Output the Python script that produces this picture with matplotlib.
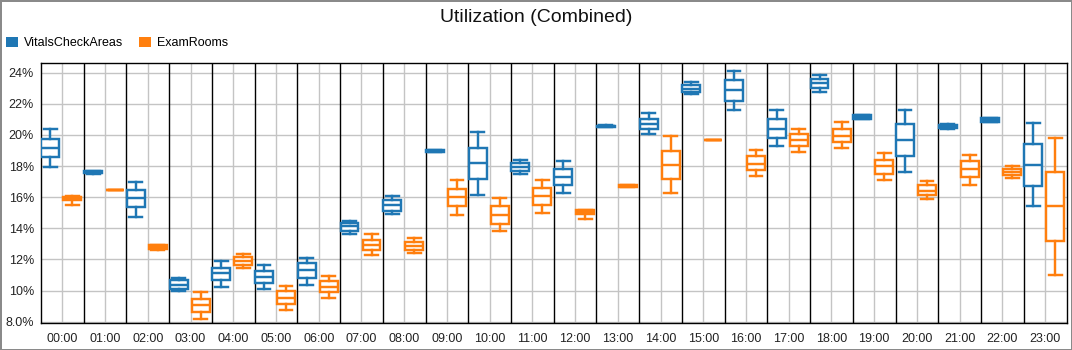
#!/usr/bin/env python3
# Utilization (Combined) - boites a moustaches par heure, deux series

import matplotlib
matplotlib.use("Agg")
import matplotlib.pyplot as plt
from matplotlib.patches import Patch

plt.rcParams['font.family'] = ['Liberation Sans', 'DejaVu Sans']

heures = ["%02d:00" % h for h in range(24)]

# VitalsCheckAreas (en %)
vit_low = [17.95, 17.52, 14.76, 9.96, 10.22, 10.09, 10.35, 13.61, 14.91, 18.88, 16.12, 17.48,
           16.25, 20.52, 20.09, 22.62, 21.62, 19.29, 22.75, 21.00, 17.63, 20.41, 20.85, 15.42]
vit_q1 = [18.58, 17.54, 15.34, 10.11, 10.67, 10.50, 10.80, 13.85, 15.14, 18.88, 17.17, 17.69,
          16.76, 20.53, 20.40, 22.75, 22.21, 19.83, 23.01, 21.01, 18.64, 20.42, 20.86, 16.74]
vit_med = [19.18, 17.60, 15.92, 10.39, 11.11, 10.89, 11.30, 14.12, 15.49, 18.95, 18.19, 17.95,
           17.30, 20.57, 20.72, 22.98, 22.86, 20.41, 23.33, 21.13, 19.66, 20.54, 20.98, 18.06]
vit_q3 = [19.77, 17.68, 16.46, 10.67, 11.47, 11.26, 11.75, 14.32, 15.79, 19.02, 19.16, 18.19,
          17.84, 20.60, 21.04, 23.22, 23.52, 21.00, 23.61, 21.25, 20.67, 20.66, 21.10, 19.44]
vit_high = [20.41, 17.70, 16.96, 10.83, 11.88, 11.62, 12.12, 14.45, 16.05, 19.02, 20.22, 18.41,
            18.34, 20.61, 21.39, 23.40, 24.09, 21.58, 23.85, 21.26, 21.62, 20.67, 21.11, 20.74]

# ExamRooms (en %)
exam_low = [15.53, 16.47, 12.62, 8.17, 11.47, 8.73, 9.55, 12.29, 12.42, 14.84, 13.81, 15.01,
            14.63, 16.67, 16.27, 19.68, 17.35, 18.90, 19.16, 17.11, 15.88, 16.79, 17.22, 11.02]
exam_q1 = [15.80, 16.47, 12.67, 8.62, 11.65, 9.12, 9.90, 12.62, 12.62, 15.43, 14.30, 15.53,
           14.93, 16.68, 17.15, 19.68, 17.73, 19.29, 19.57, 17.52, 16.12, 17.31, 17.41, 13.20]
exam_med = [15.92, 16.48, 12.79, 9.05, 11.91, 9.55, 10.24, 12.96, 12.88, 15.99, 14.86, 16.05,
            15.05, 16.74, 18.04, 19.68, 18.16, 19.66, 19.96, 18.00, 16.42, 17.80, 17.63, 15.43]
exam_q3 = [16.04, 16.49, 12.91, 9.46, 12.16, 9.96, 10.61, 13.27, 13.14, 16.53, 15.43, 16.59,
           15.17, 16.80, 18.99, 19.68, 18.64, 20.03, 20.41, 18.40, 16.76, 18.30, 17.82, 17.60]
exam_high = [16.05, 16.49, 12.93, 9.92, 12.34, 10.31, 10.95, 13.61, 13.35, 17.11, 15.94, 17.11,
             15.18, 16.81, 19.94, 19.68, 19.05, 20.41, 20.80, 18.86, 17.05, 18.71, 18.00, 19.83]

y_ticks = [8, 10, 12, 14, 16, 18, 20, 22, 24]
y_labels = ["8.0%", "10%", "12%", "14%", "16%", "18%", "20%", "22%", "24%"]

bleu = "#1f77b4"
orange = "#ff7f0e"


def stats(low, q1, med, q3, high):
    return [dict(whislo=a, q1=b, med=c, q3=d, whishi=e, fliers=[])
            for a, b, c, d, e in zip(low, q1, med, q3, high)]


fig = plt.figure(figsize=(10.72, 3.5), dpi=100)
fig.patch.set_edgecolor("#8a8a8a")
fig.patch.set_linewidth(2)
ax = fig.add_axes([41 / 1072, 1 - 323.3 / 350, 1025.5 / 1072, 260.3 / 350])

x = list(range(24))
for serie, decal, couleur in [(stats(vit_low, vit_q1, vit_med, vit_q3, vit_high), -0.28, bleu),
                              (stats(exam_low, exam_q1, exam_med, exam_q3, exam_high), 0.235, orange)]:
    ax.bxp(serie, positions=[i + decal for i in x], widths=0.42, capwidths=0.3,
           showfliers=False, patch_artist=True,
           boxprops=dict(facecolor="white", edgecolor=couleur, linewidth=1.75),
           whiskerprops=dict(color=couleur, linewidth=1.75),
           capprops=dict(color=couleur, linewidth=1.75),
           medianprops=dict(color=couleur, linewidth=1.75),
           zorder=3)

# lignes noires entre les heures
for i in range(23):
    ax.axvline(i + 0.5, color="black", linewidth=1.0, zorder=2)

ax.set_xlim(-0.5, 23.5)
ax.set_ylim(7.9, 24.62)
ax.set_xticks(x)
ax.set_xticklabels(heures, fontsize=9, color="#222222")
ax.set_yticks(y_ticks)
ax.set_yticklabels(y_labels, fontsize=9, color="#222222")
ax.tick_params(length=0, pad=7)
ax.tick_params(axis="y", pad=5)
ax.grid(True, color="#c4c4c4", linewidth=1.0, zorder=1)
ax.set_axisbelow(True)
for s in ax.spines.values():
    s.set_linewidth(1.0)
    s.set_color("black")

fig.text(0.5, 1 - 18 / 350, "Utilization (Combined)", ha="center", va="center",
         fontsize=14, color="#111111")

handles = [Patch(facecolor=bleu, edgecolor="none", label="VitalsCheckAreas"),
           Patch(facecolor=orange, edgecolor="none", label="ExamRooms")]
fig.legend(handles=handles, loc="center left", bbox_to_anchor=(2 / 1072, 1 - 43 / 350),
           ncol=2, frameon=False, fontsize=9, handlelength=0.95, handleheight=0.95,
           handletextpad=0.5, columnspacing=1.3, borderaxespad=0, borderpad=0.3)

plt.savefig("out.png", dpi=100, edgecolor=fig.get_edgecolor())
plt.close()
